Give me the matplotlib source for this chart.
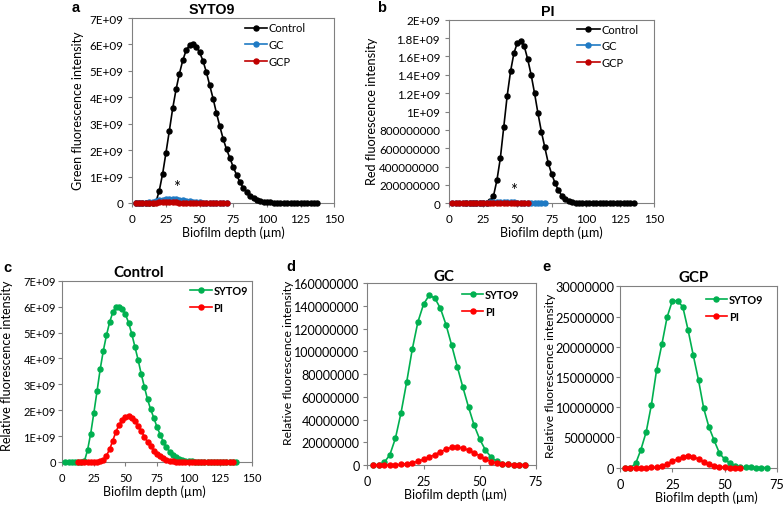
import numpy as np
import matplotlib
matplotlib.use("Agg")
import matplotlib.pyplot as plt

# ---------------- data ----------------
step = 2.5
# Control (SYTO9), 2.5 .. 137.5 um
ctrl_syto9 = [0, 0, 0, 0, 0, 0, 0.03e9, 0.46e9, 1.1e9, 1.9e9, 2.73e9, 3.58e9, 4.3e9, 4.9e9,
              5.4e9, 5.78e9, 5.97e9, 6.0e9, 5.92e9, 5.7e9, 5.38e9, 4.95e9, 4.45e9, 3.95e9,
              3.4e9, 2.9e9, 2.42e9, 2.03e9, 1.7e9, 1.35e9, 1.06e9, 0.78e9, 0.57e9, 0.40e9,
              0.28e9, 0.19e9, 0.12e9, 0.08e9, 0.05e9, 0.03e9, 0.02e9, 0.01e9,
              0.005e9, 0.005e9, 0.004e9, 0.004e9, 0.003e9, 0.003e9, 0.003e9, 0.002e9,
              0.002e9, 0.002e9, 0.002e9, 0.002e9, 0.002e9]
ctrl_syto9_x0 = 2.5
# Control (PI), 12.5 .. 135 um
ctrl_pi = [0, 0, 0, 0, 0, 0.002e9, 0.005e9, 0.02e9, 0.08e9, 0.25e9, 0.49e9, 0.83e9, 1.17e9,
           1.44e9, 1.64e9, 1.75e9, 1.77e9, 1.71e9, 1.57e9, 1.40e9, 1.2e9, 0.98e9, 0.78e9,
           0.61e9, 0.44e9, 0.32e9, 0.22e9, 0.14e9, 0.08e9, 0.05e9, 0.025e9, 0.012e9,
           0.006e9, 0.003e9, 0.002e9, 0.001e9, 0.001e9, 0.001e9, 0.001e9, 0.001e9,
           0.001e9, 0.001e9, 0.001e9, 0.001e9, 0.001e9, 0.001e9, 0.001e9, 0.001e9,
           0.001e9, 0.001e9]
ctrl_pi_x0 = 12.5
# GC (SYTO9), 2.5 .. 70 um
gc_syto9 = [0, 0.3e6, 2.3e6, 8.8e6, 23.5e6, 46e6, 73e6, 102e6, 126e6, 141.5e6, 149.5e6,
            147e6, 138e6, 123.5e6, 105.5e6, 86.6e6, 68.4e6, 51e6, 35e6, 22.6e6, 13.2e6,
            7e6, 3.2e6, 1.2e6, 0.5e6, 0.3e6, 0.3e6, 0.3e6]
# GC (PI), 2.5 .. 70 um
gc_pi = [0, 0, 0, 0, 0.2e6, 0.5e6, 1.2e6, 2e6, 3.2e6, 5e6, 7e6, 9e6, 11.7e6, 13.8e6,
         15.6e6, 15.9e6, 14.7e6, 13.2e6, 10.6e6, 8.2e6, 5.3e6, 2.9e6, 1.8e6, 1.2e6,
         0.6e6, 0.3e6, 0.3e6, 0.2e6]
gc_x0 = 2.5
# GCP (SYTO9), 2.5 .. 70 um
gcp_syto9 = [0, 0, 0.7e6, 3.0e6, 5.9e6, 10.4e6, 16.2e6, 20.4e6, 24.9e6, 27.6e6, 27.6e6,
             26.6e6, 22.8e6, 18.6e6, 14.5e6, 9.8e6, 6.7e6, 4.5e6, 2.4e6, 1.4e6, 0.7e6,
             0.3e6, 0.1e6, 0.05e6, 0.05e6, 0.02e6, 0.02e6, 0.02e6]
# GCP (PI), 2.5 .. 57.5 um
gcp_pi = [0, 0, 0, 0, 0, 0.05e6, 0.1e6, 0.27e6, 0.6e6, 1.05e6, 1.43e6, 1.82e6, 1.99e6,
          1.82e6, 1.43e6, 0.94e6, 0.6e6, 0.33e6, 0.17e6, 0.06e6, 0.02e6, 0.01e6, 0]
gcp_x0 = 2.5

def xs(x0, vals):
    return x0 + step * np.arange(len(vals))

# tick labels
yt_a = [0, 1e9, 2e9, 3e9, 4e9, 5e9, 6e9, 7e9]
yl_a = ["0", "1E+09", "2E+09", "3E+09", "4E+09", "5E+09", "6E+09", "7E+09"]
yt_b = [0, 2e8, 4e8, 6e8, 8e8, 1e9, 1.2e9, 1.4e9, 1.6e9, 1.8e9, 2e9]
yl_b = ["0", "200000000", "400000000", "600000000", "800000000", "1E+09", "1.2E+09",
        "1.4E+09", "1.6E+09", "1.8E+09", "2E+09"]
yt_d = [0, 2e7, 4e7, 6e7, 8e7, 1e8, 1.2e8, 1.4e8, 1.6e8]
yl_d = ["0", "20000000", "40000000", "60000000", "80000000", "100000000", "120000000",
        "140000000", "160000000"]
yt_e = [0, 5e6, 1e7, 1.5e7, 2e7, 2.5e7, 3e7]
yl_e = ["0", "5000000", "10000000", "15000000", "20000000", "25000000", "30000000"]
xt_150 = [0, 25, 50, 75, 100, 125, 150]
xt_75 = [0, 25, 50, 75]

# ---------------- style ----------------
W, H = 783, 506
TICKFONT = "Lato"
LABFONT = "Lato"
TITLEFONT = "Liberation Sans"
GRAY = "#808080"
C_BLACK = "black"
C_BLUE = "#1f7ac4"
C_DRED = "#c00000"
C_GREEN = "#00b050"
C_RED = "#ff0000"

fig = plt.figure(figsize=(W / 100, H / 100), dpi=100)

def px_axes(left, right, top, bottom):
    return fig.add_axes([left / W, (H - bottom) / H, (right - left) / W, (bottom - top) / H])

def style(ax, xlim, ylim, xticks, yticks, ylabels, fs, ypad):
    ax.set_xlim(*xlim)
    ax.set_ylim(*ylim)
    ax.set_xticks(xticks)
    ax.set_xticklabels([str(t) for t in xticks], fontfamily=TICKFONT, fontsize=fs)
    ax.set_yticks(yticks)
    ax.set_yticklabels(ylabels, fontfamily=TICKFONT, fontsize=fs)
    for s in ax.spines.values():
        s.set_color(GRAY)
        s.set_linewidth(0.8)
    ax.tick_params(axis="both", direction="out", length=3, width=0.8, color=GRAY,
                   labelcolor="black")
    ax.tick_params(axis="x", pad=4.3)
    ax.tick_params(axis="y", pad=ypad)

def ftext(x, y, s, **kw):
    fig.text(x / W, (H - y) / H, s, ha="center", va="center", **kw)

def line(ax, x, y, color, label, z):
    ax.plot(x, y, color=color, lw=1.2, marker="o", ms=3.6, mec=color, mfc=color,
            label=label, clip_on=False, zorder=z)

def legend(ax, x, y, bold=False, fs=8.0):
    leg = ax.legend(loc="upper left", bbox_to_anchor=(x, y), frameon=False,
                    borderpad=0, borderaxespad=0, handlelength=2.0, handletextpad=0.15,
                    labelspacing=0.5 if not bold else 0.55,
                    prop={"family": LABFONT, "size": fs, "weight": "bold" if bold else "normal"})
    return leg

# ---- panel a ----
axa = px_axes(132.3, 334.3, 19, 204)
line(axa, xs(ctrl_syto9_x0, ctrl_syto9), ctrl_syto9, C_BLACK, "Control", 3)
line(axa, xs(gc_x0, gc_syto9), gc_syto9, C_BLUE, "GC", 4)
line(axa, xs(gcp_x0, gcp_syto9), gcp_syto9, C_DRED, "GCP", 5)
style(axa, (0, 150), (0, 7e9), xt_150, yt_a, yl_a, 8.4, 3.5)
legend(axa, 0.558, 0.976)
axa.text(33, 0.6e9, "*", ha="center", va="center", fontsize=12, fontfamily=LABFONT)

# ---- panel b ----
axb = px_axes(449, 654.3, 20.7, 204.3)
line(axb, xs(ctrl_pi_x0, ctrl_pi), ctrl_pi, C_BLACK, "Control", 3)
line(axb, xs(gc_x0, gc_pi), gc_pi, C_BLUE, "GC", 4)
line(axb, xs(gcp_x0, gcp_pi), gcp_pi, C_DRED, "GCP", 5)
style(axb, (0, 150), (0, 2e9), xt_150, yt_b, yl_b, 8.4, 3.5)
legend(axb, 0.625, 0.979)
axb.text(47.5, 0.14e9, "*", ha="center", va="center", fontsize=12, fontfamily=LABFONT)

# ---- panel c ----
axc = px_axes(62.3, 251.7, 281.7, 463)
line(axc, xs(ctrl_syto9_x0, ctrl_syto9), ctrl_syto9, C_GREEN, "SYTO9", 3)
line(axc, xs(ctrl_pi_x0, ctrl_pi), ctrl_pi, C_RED, "PI", 4)
style(axc, (0, 150), (0, 7e9), xt_150, yt_a, yl_a, 8.0, 1.5)
legend(axc, 0.674, 0.975, bold=True, fs=7.8)

# ---- panel d ----
axd = px_axes(367.3, 536, 284.3, 466)
line(axd, xs(gc_x0, gc_syto9), gc_syto9, C_GREEN, "SYTO9", 3)
line(axd, xs(gc_x0, gc_pi), gc_pi, C_RED, "PI", 4)
style(axd, (0, 75), (0, 1.6e8), xt_75, yt_d, yl_d, 9.0, 2.5)
legend(axd, 0.56, 0.971, bold=True, fs=7.8)

# ---- panel e ----
axe = px_axes(620, 777, 287.3, 468.7)
line(axe, xs(gcp_x0, gcp_syto9), gcp_syto9, C_GREEN, "SYTO9", 3)
line(axe, xs(gcp_x0, gcp_pi), gcp_pi, C_RED, "PI", 4)
style(axe, (0, 75), (0, 3e7), xt_75, yt_e, yl_e, 9.2, 1.0)
legend(axe, 0.545, 0.956, bold=True, fs=7.8)

# ---- titles, labels, panel letters ----
tkw = dict(fontfamily=TITLEFONT, fontweight="bold", fontsize=10.3)
ftext(211.7, 9.5, "SYTO9", **tkw)
ftext(548, 12, "PI", **tkw)
ckw = dict(fontfamily=LABFONT, fontweight="bold", fontsize=10.8)
ftext(138.3, 273.3, "Control", **ckw)
ftext(444.3, 276.7, "GC", **ckw)
ftext(693.3, 278.3, "GCP", **ckw)

lkw = dict(fontfamily=TITLEFONT, fontweight="bold", fontsize=10.5)
ftext(76, 7.5, "a", **lkw)
ftext(382, 7.5, "b", **lkw)
ftext(7.5, 268.3, "c", **lkw)
ftext(290.5, 267.3, "d", **lkw)
ftext(546.7, 267.3, "e", **lkw)

xkw = dict(fontfamily=LABFONT, fontsize=9.0)
ftext(233, 233, "Biofilm depth (µm)", **xkw)
ftext(551, 233, "Biofilm depth (µm)", **xkw)
ftext(154, 491.5, "Biofilm depth (µm)", **xkw)
ftext(455, 495, "Biofilm depth (µm)", **xkw)
ftext(706, 497.5, "Biofilm depth (µm)", **xkw)

ftext(77.5, 111, "Green fluorescence intensity", rotation=90, fontfamily=LABFONT, fontsize=9.0)
ftext(372, 111, "Red fluorescence intensity", rotation=90, fontfamily=LABFONT, fontsize=9.2)
ftext(7.5, 366, "Relative fluorescence intensity", rotation=90, fontfamily=LABFONT, fontsize=9.2)
ftext(288, 363, "Relative fluorescence intensity", rotation=90, fontfamily=LABFONT, fontsize=8.8)
ftext(550, 376, "Relative fluorescence intensity", rotation=90, fontfamily=LABFONT, fontsize=8.8)

fig.savefig("out.png", dpi=100)
